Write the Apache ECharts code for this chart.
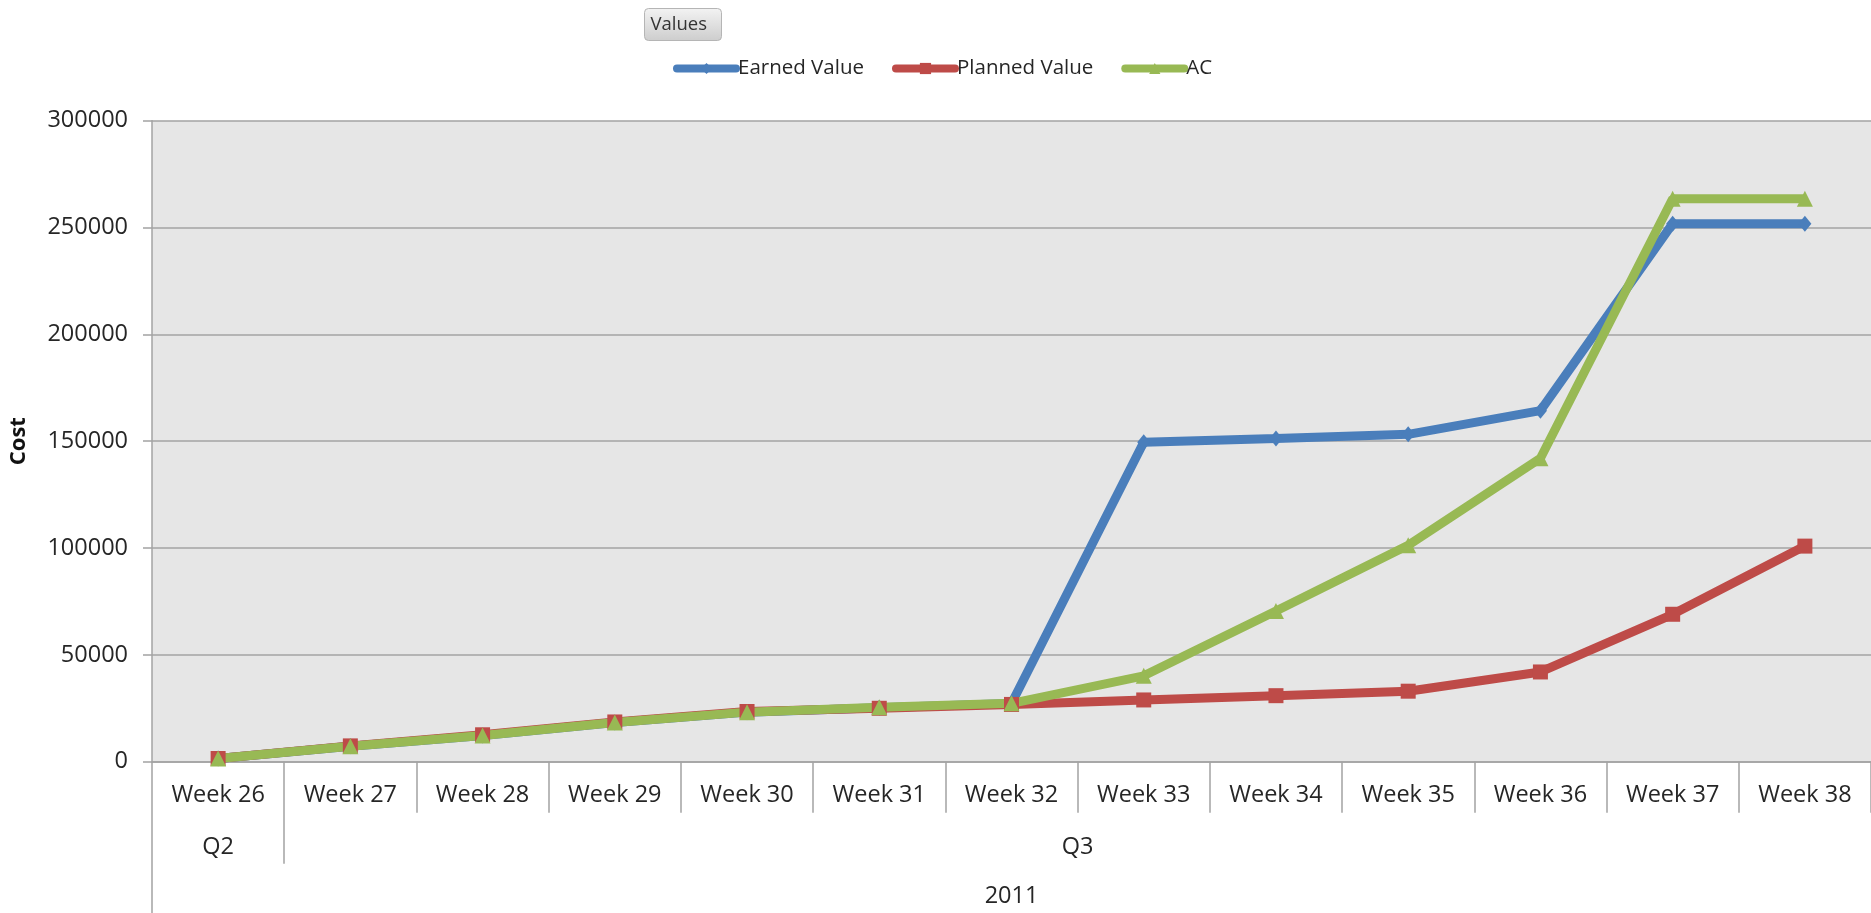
<!DOCTYPE html>
<html>
<head>
<meta charset="utf-8">
<title>Earned Value / Planned Value / AC</title>
<script src="https://cdn.jsdelivr.net/npm/echarts@6/dist/echarts.min.js"></script>
<style>
  html, body { margin: 0; padding: 0; background: #ffffff; }
  #chart { width: 1871px; height: 913px; }
</style>
</head>
<body>
<div id="chart"></div>
<script>
// Weekly categories and the two grouping levels beneath them
const weeks = ['Week 26', 'Week 27', 'Week 28', 'Week 29', 'Week 30', 'Week 31', 'Week 32',
               'Week 33', 'Week 34', 'Week 35', 'Week 36', 'Week 37', 'Week 38'];
const quarterLabels = ['Q2', 'Q3'];
const quarterSpans = [1, 12];
const yearLabels = ['2011'];
const yearSpans = [13];

// Cumulative cost series
const earnedValue  = [1500, 7200, 12300, 18300, 23200, 25300, 27200, 149500, 151300, 153200, 164300, 251800, 251800];
const plannedValue = [1500, 7400, 12600, 18600, 23500, 25000, 26800, 28900, 30900, 33000, 42000, 69000, 100900];
const actualCost   = [1500, 7200, 12300, 18300, 23200, 25500, 27300, 40200, 70500, 101300, 142000, 263500, 263500];

// Y axis scale
const yMin = 0, yMax = 300000, yStep = 50000;

// Turn group spans into divider positions and label centres on a 0..N band scale
function groupLayout(labels, spans) {
  const dividers = [0];
  const centers = [];
  const byCenter = {};
  let pos = 0;
  spans.forEach((s, i) => {
    const c = pos + s / 2;
    centers.push(c);
    byCenter[c] = labels[i];
    pos += s;
    dividers.push(pos);
  });
  return { dividers, centers, byCenter };
}
const qLayout = groupLayout(quarterLabels, quarterSpans);
const yLayout = groupLayout(yearLabels, yearSpans);

const FONT = '"Open Sans", "Noto Sans", "Liberation Sans", sans-serif';
const TEXT = '#262626';
const RULE = '#a3a3a3';
const BLUE = '#4a7ebb', RED = '#be4b48', GREEN = '#98b954';

const chart = echarts.init(document.getElementById('chart'), null, { renderer: 'canvas' });

chart.setOption({
  animation: false,
  backgroundColor: '#ffffff',
  textStyle: { fontFamily: FONT },
  legend: {
    left: 668,
    top: 53,
    itemWidth: 59,
    itemHeight: 14,
    itemGap: 28,
    lineStyle: { width: 8, cap: 'round' },
    textStyle: { fontFamily: FONT, fontSize: 20.5, color: TEXT, padding: [0, 0, 0, -3] },
    data: ['Earned Value', 'Planned Value', 'AC']
  },
  graphic: [
    {
      type: 'group',
      left: 644,
      top: 8,
      children: [
        {
          type: 'rect',
          shape: { x: 0, y: 0, width: 77, height: 32, r: 4 },
          style: {
            fill: new echarts.graphic.LinearGradient(0, 0, 0, 1, [
              { offset: 0, color: '#f3f3f3' },
              { offset: 1, color: '#cdcdcd' }
            ]),
            stroke: '#b5b5b5',
            lineWidth: 1
          }
        },
        {
          type: 'text',
          x: 6,
          y: 16,
          style: {
            text: 'Values',
            fontFamily: FONT,
            fontSize: 18.5,
            fill: '#333333',
            verticalAlign: 'middle'
          }
        }
      ]
    }
  ],
  grid: {
    left: 150,
    right: -6,
    top: 120.7,
    bottom: 151.3,
    show: true,
    backgroundColor: '#e6e6e6',
    borderWidth: 0
  },
  xAxis: [
    {
      type: 'category',
      data: weeks,
      boundaryGap: true,
      axisLine: { show: true, lineStyle: { color: RULE, width: 1.5 } },
      axisTick: { show: true, interval: 0, length: 51, lineStyle: { color: RULE, width: 1.5 } },
      axisLabel: { interval: 0, margin: 22, fontFamily: FONT, fontSize: 23.5, color: TEXT },
      splitLine: { show: false }
    },
    {
      type: 'value',
      min: 0,
      max: weeks.length,
      position: 'bottom',
      offset: 51,
      axisLine: { show: false },
      axisTick: {
        show: true,
        customValues: qLayout.dividers.slice(0, -1),
        length: 51,
        lineStyle: { color: RULE, width: 1.5 }
      },
      axisLabel: {
        show: true,
        customValues: qLayout.centers,
        formatter: v => qLayout.byCenter[v] || '',
        margin: 23,
        fontFamily: FONT,
        fontSize: 23.5,
        color: TEXT
      },
      splitLine: { show: false }
    },
    {
      type: 'value',
      min: 0,
      max: weeks.length,
      position: 'bottom',
      offset: 102,
      axisLine: { show: false },
      axisTick: {
        show: true,
        customValues: [0],
        length: 52,
        lineStyle: { color: RULE, width: 1.5 }
      },
      axisLabel: {
        show: true,
        customValues: yLayout.centers,
        formatter: v => yLayout.byCenter[v] || '',
        margin: 21,
        fontFamily: FONT,
        fontSize: 23.5,
        color: TEXT
      },
      splitLine: { show: false }
    }
  ],
  yAxis: {
    type: 'value',
    min: yMin,
    max: yMax,
    interval: yStep,
    name: 'Cost',
    nameLocation: 'middle',
    nameGap: 122,
    nameTextStyle: { fontFamily: FONT, fontSize: 22, fontWeight: 'bold', color: '#111111' },
    axisLine: { show: true, lineStyle: { color: RULE, width: 1.5 } },
    axisTick: { show: true, length: 9, lineStyle: { color: RULE, width: 1.5 } },
    axisLabel: {
      margin: 24,
      fontFamily: FONT,
      fontSize: 23.5,
      color: TEXT,
      formatter: v => String(v)
    },
    splitLine: { show: true, lineStyle: { color: RULE, width: 1.5 } }
  },
  series: [
    {
      name: 'Earned Value',
      type: 'line',
      data: earnedValue,
      symbol: 'diamond',
      symbolSize: [13, 16],
      showAllSymbol: true,
      color: BLUE,
      lineStyle: { width: 9, color: BLUE },
      itemStyle: { color: BLUE }
    },
    {
      name: 'Planned Value',
      type: 'line',
      data: plannedValue,
      symbol: 'rect',
      symbolSize: 15,
      showAllSymbol: true,
      color: RED,
      lineStyle: { width: 9, color: RED },
      itemStyle: { color: RED }
    },
    {
      name: 'AC',
      type: 'line',
      data: actualCost,
      symbol: 'triangle',
      symbolSize: 16,
      showAllSymbol: true,
      color: GREEN,
      lineStyle: { width: 9, color: GREEN },
      itemStyle: { color: GREEN }
    }
  ]
});
</script>
</body>
</html>
